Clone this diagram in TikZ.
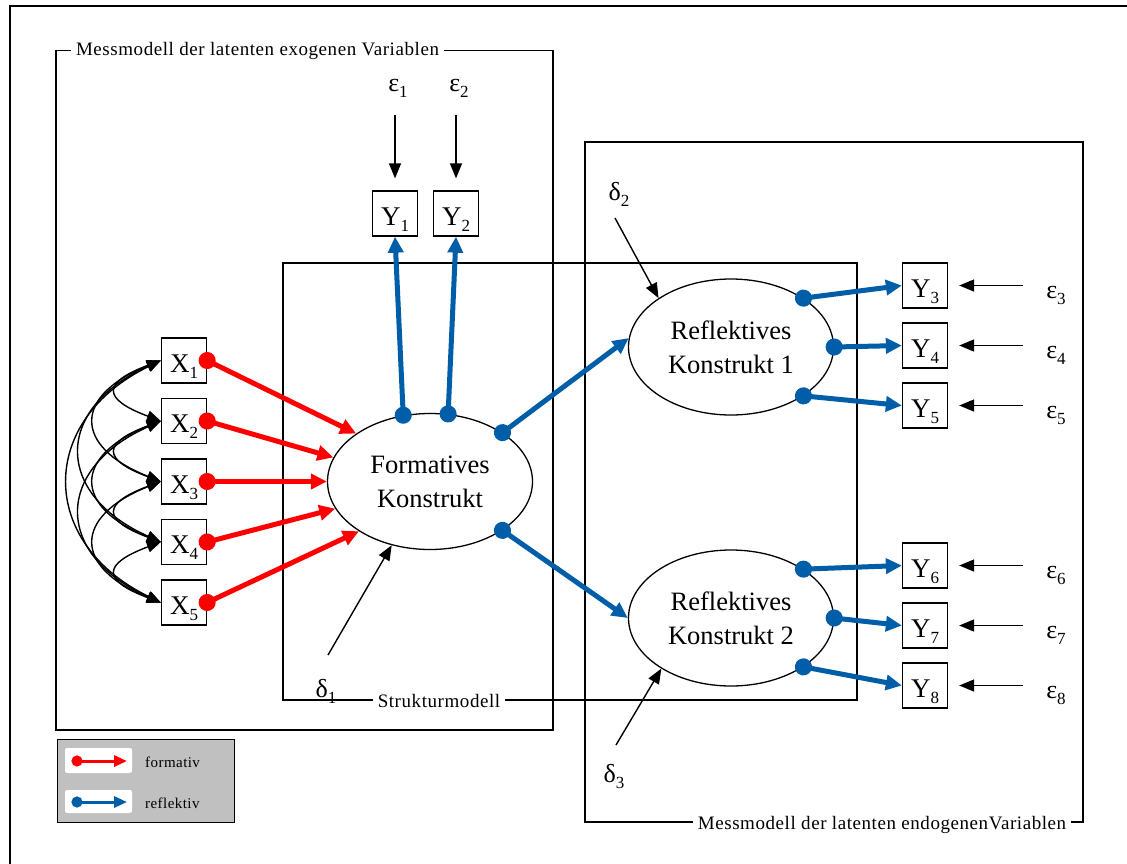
\documentclass[tikz,border=0pt]{standalone}
\usepackage{fontspec}
\setmainfont{Liberation Serif}
\newfontfamily\spacedserif[LetterSpace=3]{Liberation Serif}
\usetikzlibrary{arrows.meta,shapes.geometric}

\definecolor{formred}{RGB}{255,0,0}
\definecolor{reflblue}{RGB}{0,94,168}
\definecolor{legendgray}{RGB}{192,192,192}

% lowered index in a smaller size
\newcommand{\lowidx}[1]{\raisebox{-6pt}{\fontsize{17}{17}\selectfont #1}}

\begin{document}
\begin{tikzpicture}[x=1pt,y=-1pt,
  varbox/.style={draw, line width=1.3pt, minimum size=45pt, inner sep=0pt,
    text height=23pt, text depth=0pt, font=\fontsize{27}{27}\selectfont},
  construct/.style={ellipse, draw, line width=1.3pt, minimum width=205pt,
    minimum height=136pt, inner sep=0pt, align=center,
    font=\fontsize{26.5}{34}\selectfont},
  errlabel/.style={inner sep=0pt, font=\fontsize{26}{26}\selectfont},
  region/.style={line width=1.3pt},
  regionlabel/.style={anchor=base, fill=white, inner xsep=5pt, inner ysep=1pt,
    font=\spacedserif\fontsize{19}{19}\selectfont},
  errarrow/.style={line width=1.4pt, -{Triangle[length=15pt,width=12pt]}},
  covarrow/.style={line width=1.4pt,
    {Triangle[length=14pt,width=11pt]}-{Triangle[length=14pt,width=11pt]}},
  formlink/.style={color=formred, line width=5pt, shorten <=-8.5pt,
    {Circle[length=17pt,width=17pt]}-{Triangle[length=16pt,width=15pt]}},
  refllink/.style={color=reflblue, line width=5pt, shorten <=-8.5pt,
    {Circle[length=17pt,width=17pt]}-{Triangle[length=16pt,width=15pt]}},
  legendform/.style={color=formred, line width=3pt, shorten <=-5.5pt,
    {Circle[length=11pt,width=11pt]}-{Triangle[length=13pt,width=11pt]}},
  legendrefl/.style={color=reflblue, line width=3pt, shorten <=-5.5pt,
    {Circle[length=11pt,width=11pt]}-{Triangle[length=13pt,width=11pt]}},
  legendtext/.style={anchor=base west, inner sep=0pt,
    font=\spacedserif\fontsize{15}{15}\selectfont}
]
\path[use as bounding box, clip] (0,0) rectangle (1127,863);

% outer frame and the three model regions
\draw[region] (10,6) rectangle (1150,880);
\draw[region] (56,50.5) rectangle (553,730);
\draw[region] (585,142) rectangle (1083,822);
\draw[region] (283,263) rectangle (857,700);

\node[regionlabel] (exolabel) at (257.5,55.5) {Messmodell der latenten exogenen Variablen};
\node[regionlabel] (strlabel) at (439,707) {Strukturmodell};
\node[regionlabel] (endolabel) at (882,829) {Messmodell der latenten endogenenVariablen};

% latent constructs
\node[construct] (F) at (430,481.5) {Formatives\\Konstrukt};
\node[construct] (R1) at (731,347) {Reflektives\\Konstrukt 1};
\node[construct] (R2) at (731,618) {Reflektives\\Konstrukt 2};

% indicators
\node[varbox] (X1) at (184,360.5) {X\lowidx{1}};
\node[varbox] (X2) at (184,421) {X\lowidx{2}};
\node[varbox] (X3) at (184,481.5) {X\lowidx{3}};
\node[varbox] (X4) at (184,542) {X\lowidx{4}};
\node[varbox] (X5) at (184,602.5) {X\lowidx{5}};

\node[varbox] (Y1) at (395,213.5) {Y\lowidx{1}};
\node[varbox] (Y2) at (456,213.5) {Y\lowidx{2}};
\node[varbox] (Y3) at (925,285.5) {Y\lowidx{3}};
\node[varbox] (Y4) at (925,345.5) {Y\lowidx{4}};
\node[varbox] (Y5) at (925,405.5) {Y\lowidx{5}};
\node[varbox] (Y6) at (925,565.5) {Y\lowidx{6}};
\node[varbox] (Y7) at (925,625.5) {Y\lowidx{7}};
\node[varbox] (Y8) at (925,685.5) {Y\lowidx{8}};

% error terms
\node[errlabel] (e1) at (398,88) {ε\lowidx{1}};
\node[errlabel] (e2) at (459,88) {ε\lowidx{2}};
\node[errlabel] (e3) at (1056,295) {ε\lowidx{3}};
\node[errlabel] (e4) at (1056,355) {ε\lowidx{4}};
\node[errlabel] (e5) at (1056,415) {ε\lowidx{5}};
\node[errlabel] (e6) at (1056,575) {ε\lowidx{6}};
\node[errlabel] (e7) at (1056,635) {ε\lowidx{7}};
\node[errlabel] (e8) at (1056,695) {ε\lowidx{8}};

\node[errlabel] (d1) at (326,691) {δ\lowidx{1}};
\node[errlabel] (d2) at (619,194) {δ\lowidx{2}};
\node[errlabel] (d3) at (614,776) {δ\lowidx{3}};

% error arrows
\coordinate (e1s) at (395,115);
\coordinate (e2s) at (456,115);
\coordinate (e3s) at (1023,285.5);
\coordinate (e4s) at (1023,345.5);
\coordinate (e5s) at (1023,405.5);
\coordinate (e6s) at (1023,565.5);
\coordinate (e7s) at (1023,625.5);
\coordinate (e8s) at (1023,685.5);
\draw[errarrow, shorten >=12pt] (e1s) -- (Y1.north);
\draw[errarrow, shorten >=12pt] (e2s) -- (Y2.north);
\draw[errarrow, shorten >=11pt] (e3s) -- (Y3.east);
\draw[errarrow, shorten >=11pt] (e4s) -- (Y4.east);
\draw[errarrow, shorten >=11pt] (e5s) -- (Y5.east);
\draw[errarrow, shorten >=11pt] (e6s) -- (Y6.east);
\draw[errarrow, shorten >=11pt] (e7s) -- (Y7.east);
\draw[errarrow, shorten >=11pt] (e8s) -- (Y8.east);

\coordinate (d1s) at (328,655);
\coordinate (d2s) at (615,218);
\coordinate (d3s) at (616,745);
\draw[errarrow] (d1s) -- (F.239);
\draw[errarrow] (d2s) -- (R1.146);
\draw[errarrow] (d3s) -- (R2.216);

% correlations among the formative indicators
\draw[covarrow] (X1.west) .. controls +(-59,22) and +(-59,-22) .. (X2.west);
\draw[covarrow] (X2.west) .. controls +(-59,22) and +(-59,-22) .. (X3.west);
\draw[covarrow] (X3.west) .. controls +(-59,22) and +(-59,-22) .. (X4.west);
\draw[covarrow] (X4.west) .. controls +(-59,22) and +(-59,-22) .. (X5.west);
\draw[covarrow] (X1.west) .. controls +(-88,35) and +(-88,-35) .. (X3.west);
\draw[covarrow] (X2.west) .. controls +(-88,35) and +(-88,-35) .. (X4.west);
\draw[covarrow] (X3.west) .. controls +(-88,35) and +(-88,-35) .. (X5.west);
\draw[covarrow] (X1.west) .. controls +(-107,48) and +(-107,-48) .. (X4.west);
\draw[covarrow] (X2.west) .. controls +(-107,48) and +(-107,-48) .. (X5.west);
\draw[covarrow] (X1.west) .. controls +(-123,60) and +(-123,-60) .. (X5.west);

% formative paths
\draw[formlink] (X1.east) -- (F.147);
\draw[formlink] (X2.east) -- (F.166);
\draw[formlink] (X3.east) -- (F.180);
\draw[formlink] (X4.east) -- (F.196);
\draw[formlink] (X5.east) -- (F.215);

% reflective paths
\draw[refllink] (F.112) -- (Y1.south);
\draw[refllink] (F.75) -- (Y2.south);
\draw[refllink] (F.34) -- (R1.175);
\draw[refllink] (F.-34) -- (R2.180);
\draw[refllink] (R1.34) -- (Y3.west);
\draw[refllink] (R1.0) -- (Y4.west);
\draw[refllink] (R1.-34) -- (Y5.west);
\draw[refllink] (R2.34) -- (Y6.west);
\draw[refllink] (R2.0) -- (Y7.west);
\draw[refllink] (R2.-34) -- (Y8.west);

% legend
\node[draw, line width=1pt, fill=legendgray, minimum width=177pt,
  minimum height=83pt, inner sep=0pt] (legend) at (145.5,780.5) {};
\node[fill=white, rounded corners=2pt, minimum width=67pt, minimum height=25pt,
  inner sep=0pt] (lbox1) at (98.5,760.5) {};
\node[fill=white, rounded corners=2pt, minimum width=67pt, minimum height=23pt,
  inner sep=0pt] (lbox2) at (98.5,801.5) {};
\coordinate (lf1) at (77,761);
\coordinate (lf2) at (127,761);
\coordinate (lr1) at (77,802);
\coordinate (lr2) at (127,802);
\draw[legendform] (lf1) -- (lf2);
\draw[legendrefl] (lr1) -- (lr2);
\node[legendtext] (lt1) at (145,767) {formativ};
\node[legendtext] (lt2) at (145,808) {reflektiv};
\end{tikzpicture}
\end{document}
